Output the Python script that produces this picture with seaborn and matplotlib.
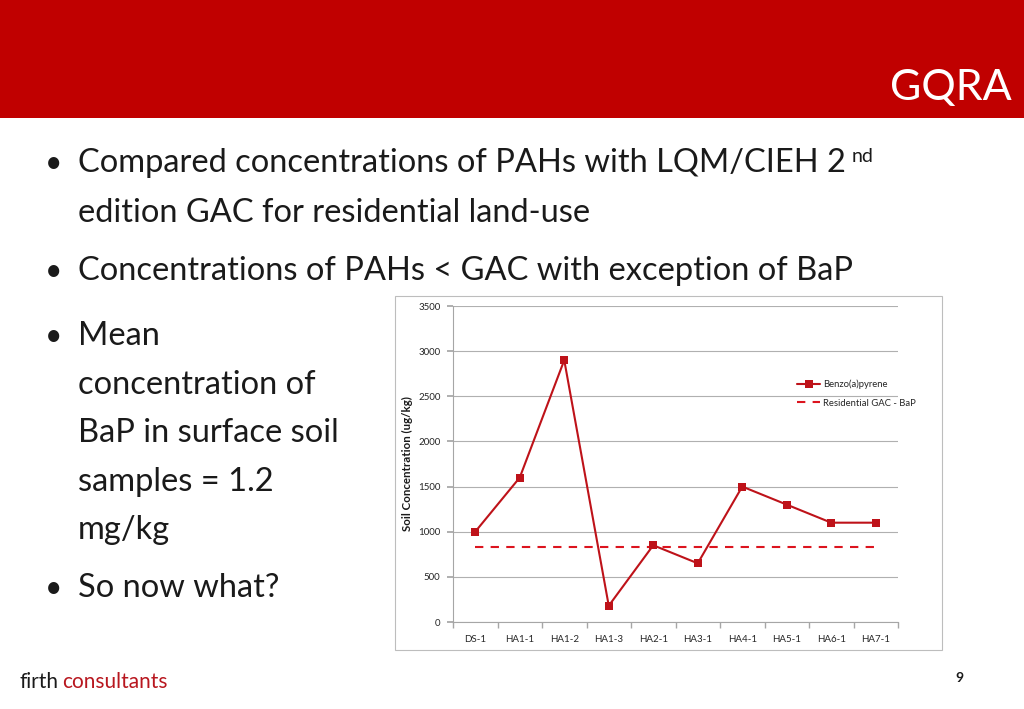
import matplotlib
matplotlib.use("Agg")
import matplotlib.pyplot as plt
from matplotlib.patches import Rectangle
import seaborn as sns
import pandas as pd

samples = ["DS-1", "HA1-1", "HA1-2", "HA1-3", "HA2-1", "HA3-1", "HA4-1", "HA5-1", "HA6-1", "HA7-1"]
bap = [1000, 1600, 2900, 180, 850, 650, 1500, 1300, 1100, 1100]
gac_bap = 830
yticks = [0, 500, 1000, 1500, 2000, 2500, 3000, 3500]

red = "#C00000"
line_red = "#BE1219"

sns.set_theme(style="white")
plt.rcParams['font.family'] = ['Lato', 'DejaVu Sans']

fig = plt.figure(figsize=(10.24, 7.09), dpi=100)
W, H = 1024, 709

def fx(x):
    return x / W

def fy(y):
    return 1 - y / H

# header band
fig.patches.append(Rectangle((0, fy(118)), 1, 118 / H, transform=fig.transFigure,
                             facecolor=red, edgecolor="none", zorder=-2))
fig.text(fx(1012), fy(100), "GQRA", color="white", fontsize=31, ha="right", va="baseline")

# bullets
bsize = 23.5
bullets = [
    (172, True, "Compared concentrations of PAHs with LQM/CIEH 2"),
    (222, False, "edition GAC for residential land-use"),
    (280, True, "Concentrations of PAHs < GAC with exception of BaP"),
    (345, True, "Mean"),
    (394, False, "concentration of"),
    (442, False, "BaP in surface soil"),
    (491, False, "samples = 1.2"),
    (539, False, "mg/kg"),
    (597, True, "So now what?"),
]
for y, dot, txt in bullets:
    if dot:
        fig.text(fx(45), fy(y), "\u2022", fontsize=bsize - 2, color="#1a1a1a", va="baseline")
    fig.text(fx(78), fy(y), txt, fontsize=bsize, color="#1a1a1a", va="baseline")
fig.text(fx(852), fy(162), "nd", fontsize=14, color="#1a1a1a", va="baseline")

# chart frame
fig.patches.append(Rectangle((fx(395), fy(650)), (942 - 395) / W, (650 - 296) / H,
                             transform=fig.transFigure, facecolor="white",
                             edgecolor="#BDBDBD", linewidth=0.8, zorder=-1))

ax = fig.add_axes([fx(453), fy(622), (898 - 453) / W, (622 - 306) / H])
ax.set_facecolor("none")

df = pd.DataFrame({"sample": samples, "conc": bap})
sns.lineplot(data=df, x="sample", y="conc", ax=ax, color=line_red, linewidth=1.5,
             marker="s", markersize=5.5, markeredgewidth=0, label="Benzo(a)pyrene", zorder=3)
ax.plot([samples[0], samples[-1]], [gac_bap, gac_bap], color="#DC141E", linestyle=(0, (4, 3.5)),
        linewidth=1.5, label="Residential GAC - BaP", zorder=2)

ax.set_xlim(-0.5, len(samples) - 0.5)
ax.set_ylim(0, 3500)
ax.set_yticks(yticks)
ax.yaxis.grid(True, color="#B0B0B0", linewidth=0.8)
ax.set_axisbelow(True)
for s in ["top", "right"]:
    ax.spines[s].set_visible(False)
for s in ["left", "bottom"]:
    ax.spines[s].set_color("#A6A6A6")
    ax.spines[s].set_linewidth(0.8)

ax.set_xticks(range(len(samples)))
ax.set_xticklabels(samples)
ax.set_xticks([i - 0.5 for i in range(len(samples) + 1)], minor=True)
ax.tick_params(axis="x", which="major", length=0, labelsize=7, pad=9, colors="#262626")
ax.tick_params(axis="x", which="minor", length=4, color="#A6A6A6", bottom=True)
ax.tick_params(axis="y", which="major", length=4, color="#A6A6A6", left=True,
               labelsize=7, pad=5, labelcolor="#262626")
ax.set_xlabel("")
ax.set_ylabel("Soil Concentration (ug/kg)", fontsize=8.3, fontweight="bold", color="#1a1a1a", labelpad=4)

leg = ax.legend(loc="upper left", bbox_to_anchor=(0.755, 0.795), frameon=False, fontsize=6.8,
                handlelength=2.4, handletextpad=0.3, labelspacing=1.05)
for t in leg.get_texts():
    t.set_color("#262626")

# footer
fig.text(fx(20), fy(688), "firth", fontsize=15, color="#1a1a1a", va="baseline")
fig.text(fx(62), fy(688), "consultants", fontsize=15, color="#B8171F", va="baseline")
fig.text(fx(963), fy(682), "9", fontsize=10, fontweight="bold", color="#1a1a1a", ha="right", va="baseline")

fig.savefig("out.png", dpi=100)
